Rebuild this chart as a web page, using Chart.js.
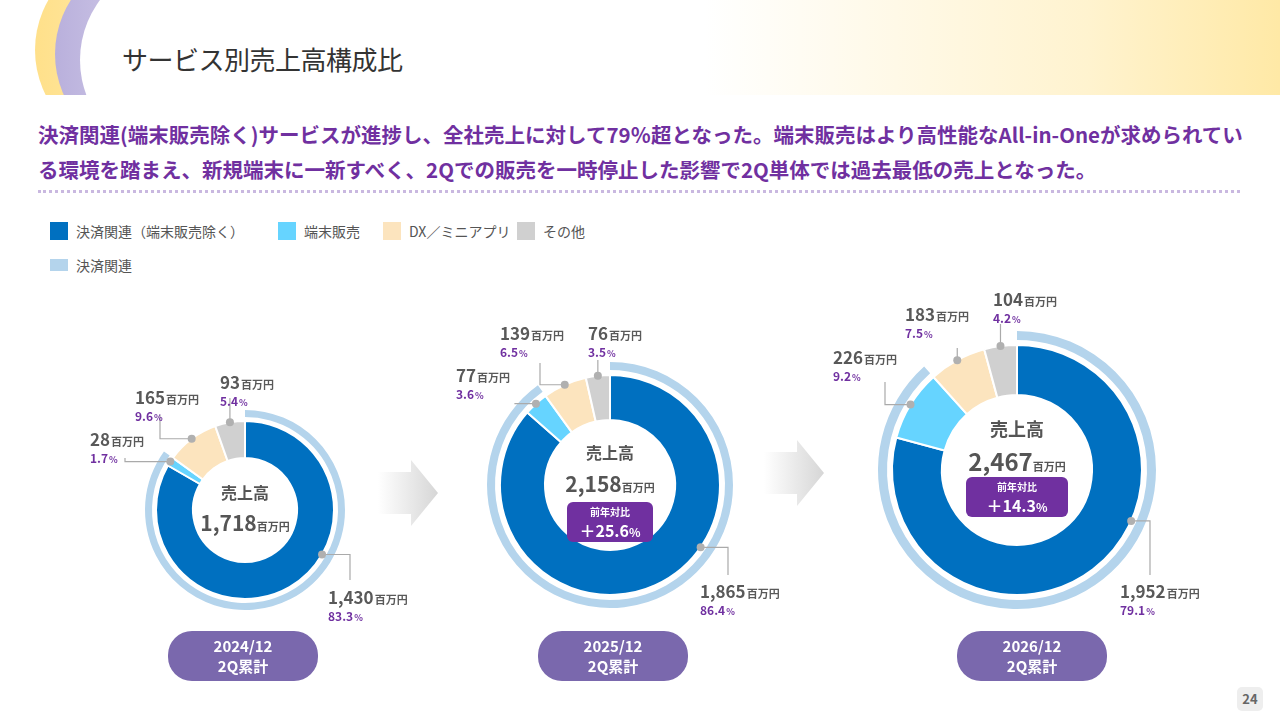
<!DOCTYPE html>
<html><head><meta charset="utf-8">
<script src="https://cdn.jsdelivr.net/npm/chart.js@4"></script>
<style>
body{margin:0;width:1280px;height:720px;position:relative;overflow:hidden;background:#fff;font-family:"Noto Sans CJK JP","Noto Sans",sans-serif;}
.abs{position:absolute}
#band{left:0;top:0;width:1280px;height:95px;background:linear-gradient(90deg,#fff 0%,#fff 55%,#fff3cf 85%,#ffe9a6 100%);overflow:hidden}
#title{left:122px;top:40px;font-size:26px;color:#333;letter-spacing:-0.5px}
.cres{border-radius:50%}
#head{left:38px;top:117px;font-size:20.5px;font-weight:bold;color:#7030A0;line-height:35px;letter-spacing:0}
#dots{left:38px;top:190px;width:1202px;border-top:3px dotted #c9b8e0}
.lg{font-size:14px;color:#555;display:flex;align-items:center}
.lg i{display:inline-block;width:18px;height:18px;margin-right:8px}
.ctr{text-align:center;color:#555;font-weight:bold;transform:translateX(-50%)}
.pill{background:#7030A0;color:#fff;border-radius:6px;text-align:center;font-weight:bold;transform:translateX(-50%)}
.date{background:#7a68ad;color:#fff;border-radius:24px;width:150px;height:50px;font-weight:bold;font-size:15px;line-height:20px;text-align:center;display:flex;flex-direction:column;justify-content:center;transform:translateX(-50%)}
.arrow{width:60px;height:66px;background:linear-gradient(90deg,#fff,#d6d6d6);clip-path:polygon(0 18%,55% 18%,55% 0,100% 50%,55% 100%,55% 82%,0 82%)}
canvas{position:absolute}
</style></head><body>
<div id="band" class="abs">
  <div class="abs cres" style="left:35px;top:-50px;width:200px;height:200px;background:linear-gradient(90deg,#ffe08a,#fff3c8)"></div>
  <div class="abs cres" style="left:55px;top:-46px;width:200px;height:200px;background:linear-gradient(90deg,#b9b0dc,#eeeaf7)"></div>
  <div class="abs cres" style="left:80px;top:-40px;width:200px;height:200px;background:#fff"></div>
</div>
<div id="title" class="abs">サービス別売上高構成比</div>
<div id="head" class="abs">決済関連(端末販売除く)サービスが進捗し、全社売上に対して79％超となった。端末販売はより高性能なAll-in-Oneが求められてい<br>る環境を踏まえ、新規端末に一新すべく、2Qでの販売を一時停止した影響で2Q単体では過去最低の売上となった。</div>
<div id="dots" class="abs"></div>
<div class="abs lg" style="left:50px;top:221px"><i style="background:#0070C0"></i>決済関連（端末販売除く）</div>
<div class="abs lg" style="left:278px;top:221px"><i style="background:#66D4FF"></i>端末販売</div>
<div class="abs lg" style="left:383px;top:221px"><i style="background:#FCE4BE"></i>DX／ミニアプリ</div>
<div class="abs lg" style="left:517px;top:221px"><i style="background:#D0D0D0"></i>その他</div>
<div class="abs lg" style="left:50px;top:255px"><i style="background:#B4D4EC;height:12px"></i>決済関連</div>
<div class="abs arrow" style="left:378px;top:460px"></div>
<div class="abs arrow" style="left:764px;top:440px"></div>
<div class="abs" style="left:1237px;top:687px;width:26px;height:24px;background:#eee;border-radius:5px;font-size:13px;font-weight:bold;color:#666;text-align:center;line-height:24px">24</div>
<div id="wrap"></div>
<script>
const periods = ['2024/12', '2025/12', '2026/12'];
const payment = [1430, 1865, 1952];
const terminal = [28, 77, 226];
const dxMini = [165, 139, 183];
const other = [93, 76, 104];
const totals = [1718, 2158, 2467];
const payPct = [83.3, 86.4, 79.1];
const termPct = [1.7, 3.6, 9.2];
const dxPct = [9.6, 6.5, 7.5];
const otherPct = [5.4, 3.5, 4.2];
const yoy = [null, 25.6, 14.3];

const colors = ['#0070C0', '#66D4FF', '#FCE4BE', '#D0D0D0'];
// layout per chart: centre, radii, label placement (relative to centre)
const layout = [
  {cx:245, cy:510, R:100, ow:7, gap:4, iw:37, hole:52, half:170, fs:[16,21], ctrY:[-30,-3],
   lab:[{t:[83,78],e:[105,70]},{t:[-155,-80],e:[-120,-52]},{t:[-110,-122],e:[-85,-95]},{t:[-25,-137],e:[null,-112]}]},
  {cx:610, cy:485, R:123, ow:8, gap:5, iw:45, hole:65, half:190, fs:[16,21], ctrY:[-45,-17],
   lab:[{t:[90,97],e:[118,90]},{t:[-154,-119],e:[-95,-82]},{t:[-110,-161],e:[-70,-122]},{t:[-22,-161],e:[null,-125]}]},
  {cx:1017, cy:470, R:139, ow:9, gap:5, iw:50, hole:75, half:205, fs:[18,24], ctrY:[-55,-27],
   lab:[{t:[103,112],e:[133,105]},{t:[-184,-122],e:[-132,-88]},{t:[-112,-165],e:[null,-122]},{t:[-24,-180],e:[null,-146]}]}
];
const F = '"Noto Sans CJK JP","Noto Sans",sans-serif';

const labelPlugin = {
  id: 'labels',
  afterDraw(chart) {
    const L = chart.options.plugins.labels.L, i = chart.options.plugins.labels.i;
    const ctx = chart.ctx;
    const meta = chart.getDatasetMeta(2);
    const vals = [payment[i], terminal[i], dxMini[i], other[i]];
    const pcts = [payPct[i], termPct[i], dxPct[i], otherPct[i]];
    meta.data.forEach((arc, k) => {
      const p = arc.getProps(['x','y','startAngle','endAngle','outerRadius'], true);
      const f = k === 0 ? 0.4 : 0.5;
      const a = p.startAngle + (p.endAngle - p.startAngle) * f;
      const r = p.outerRadius;
      const dx = p.x + Math.cos(a) * r, dy = p.y + Math.sin(a) * r;
      const lb = L.lab[k];
      const ex = lb.e[0] === null ? dx : p.x + lb.e[0], ey = p.y + lb.e[1];
      ctx.save();
      ctx.strokeStyle = '#aaa'; ctx.lineWidth = 1.2;
      ctx.beginPath(); ctx.moveTo(dx, dy); ctx.lineTo(ex, dy); ctx.lineTo(ex, ey); ctx.stroke();
      ctx.fillStyle = '#b0b0b0'; ctx.beginPath(); ctx.arc(dx, dy, 4, 0, Math.PI*2); ctx.fill();
      const tx = p.x + lb.t[0], ty = p.y + lb.t[1];
      ctx.textBaseline = 'alphabetic'; ctx.textAlign = 'left';
      ctx.fillStyle = '#595959';
      ctx.font = 'bold 17px ' + F;
      const s = vals[k].toLocaleString('en-US');
      ctx.fillText(s, tx, ty + 16);
      const w = ctx.measureText(s).width;
      ctx.font = 'bold 11px ' + F; ctx.fillText('百万円', tx + w + 1, ty + 16);
      ctx.fillStyle = '#7030A0';
      ctx.font = 'bold 12px ' + F;
      const ps = pcts[k].toFixed(1);
      ctx.fillText(ps, tx, ty + 33);
      const w2 = ctx.measureText(ps).width;
      ctx.font = 'bold 9px ' + F; ctx.fillText('%', tx + w2 + 1, ty + 33);
      ctx.restore();
    });
  }
};

const wrap = document.getElementById('wrap');
periods.forEach((per, i) => {
  const L = layout[i];
  const c = document.createElement('canvas');
  c.width = L.half * 2; c.height = L.half * 2;
  c.style.left = (L.cx - L.half) + 'px'; c.style.top = (L.cy - L.half) + 'px';
  wrap.appendChild(c);
  const rest = payment[i] + terminal[i] + dxMini[i] + other[i];
  new Chart(c, {
    type: 'doughnut',
    data: {
      datasets: [
        {data: [payment[i] + terminal[i], rest - payment[i] - terminal[i]], backgroundColor: ['#B4D4EC', 'rgba(0,0,0,0)'], borderWidth: 0, weight: L.ow},
        {data: [1], backgroundColor: ['rgba(0,0,0,0)'], borderWidth: 0, weight: L.gap},
        {data: [payment[i], terminal[i], dxMini[i], other[i]], backgroundColor: colors, borderColor: '#fff', borderWidth: 2, weight: L.iw}
      ]
    },
    options: {
      responsive: false, animation: false, radius: L.R, cutout: (L.hole / L.R * 100) + '%',
      layout: {padding: 0},
      plugins: {legend: {display: false}, tooltip: {enabled: false}, labels: {L: L, i: i}}
    },
    plugins: [labelPlugin]
  });
  // centre text
  const t1 = document.createElement('div');
  t1.className = 'abs ctr';
  t1.style.cssText += `left:${L.cx}px;top:${L.cy + L.ctrY[0]}px;font-size:${L.fs[0]}px`;
  t1.textContent = '売上高';
  wrap.appendChild(t1);
  const t2 = document.createElement('div');
  t2.className = 'abs ctr';
  t2.style.cssText += `left:${L.cx}px;top:${L.cy + L.ctrY[1]}px;font-size:${L.fs[1]}px;white-space:nowrap`;
  t2.innerHTML = totals[i].toLocaleString('en-US') + '<span style="font-size:11px">百万円</span>';
  wrap.appendChild(t2);
  if (yoy[i] !== null) {
    const p = document.createElement('div');
    p.className = 'abs pill';
    const w = i === 1 ? 86 : 102;
    p.style.cssText += `left:${L.cx}px;top:${L.cy + L.ctrY[1] + 34}px;width:${w}px;height:40px`;
    p.innerHTML = `<div style="font-size:10px;line-height:16px;padding-top:2px">前年対比</div><div style="font-size:16px;line-height:20px">＋${yoy[i].toFixed(1)}<span style="font-size:12px">%</span></div>`;
    wrap.appendChild(p);
  }
  const d = document.createElement('div');
  d.className = 'abs date';
  d.style.left = [243, 613, 1032][i] + 'px'; d.style.top = '631px';
  d.innerHTML = `<div>${per}</div><div>2Q累計</div>`;
  wrap.appendChild(d);
});
</script>
</body></html>
